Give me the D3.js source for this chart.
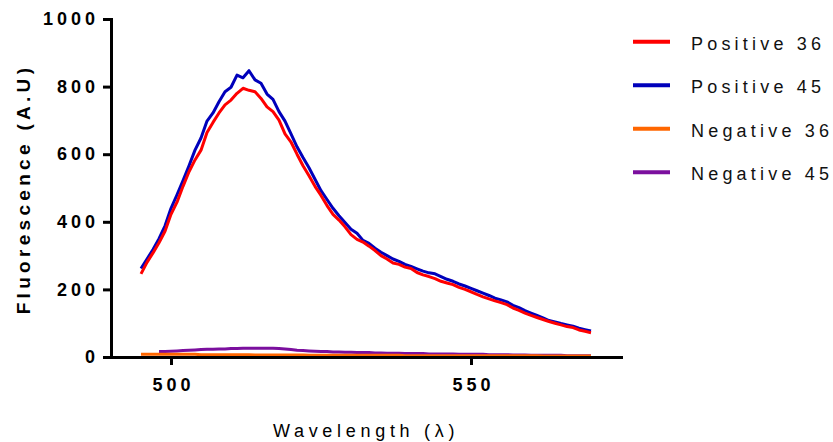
<!DOCTYPE html>
<html>
<head>
<meta charset="utf-8">
<script src="https://cdn.jsdelivr.net/npm/d3@7"></script>
<style>
    html, body { margin: 0; padding: 0; background: #fff; }
    svg { display: block; font-family: "Liberation Sans", Arial, sans-serif; }
</style>
</head>
<body>
<div id="chart"></div>
<script>

//******************************************************************************
//**  Data
//******************************************************************************
var wavelength = [
    495,496,497,498,499,500,501,502,503,504,505,506,507,508,509,510,511,512,513,514,
    515,516,517,518,519,520,521,522,523,524,525,526,527,528,529,530,531,532,533,534,
    535,536,537,538,539,540,541,542,543,544,545,546,547,548,549,550,551,552,553,554,
    555,556,557,558,559,560,561,562,563,564,565,566,567,568,569,570
];

var positive36 = [
    246,280,308,338,372,422,458,505,548,583,612,664,694,722,746,760,780,795,789,785,
    765,740,726,701,660,636,600,566,536,505,478,448,422,405,385,362,348,340,328,315,
    300,290,278,274,266,262,250,243,238,232,224,219,214,206,200,193,185,178,172,166,
    161,155,145,138,130,123,117,111,105,100,95,90,87,80,76,72
];

var positive45 = [
    262,290,318,350,388,440,480,522,566,612,648,698,722,755,785,798,834,826,847,820,
    810,778,762,726,698,660,622,590,560,526,492,466,440,418,398,378,366,345,336,322,
    310,300,290,283,274,268,261,254,249,246,238,230,224,216,210,203,196,189,182,174,
    169,163,153,146,137,130,123,116,108,104,99,95,91,85,81,77
];

var negative36 = [
    8,8,8,8,8,8,8,8,8,8,7,7,7,7,7,7,7,7,7,6,
    6,6,6,6,6,6,6,6,5,5,5,5,5,5,5,5,5,5,5,5,
    5,5,5,5,4,4,4,4,4,4,4,4,4,4,4,4,4,4,4,4,
    4,4,4,4,4,4,4,3,3,3,3,3,3,3,3,3
];

var negative45 = [
    null,null,null,16,16,17,18,19,20,21,22,23,23,24,24,25,25,26,26,26,
    26,26,26,25,24,22,20,19,18,17,16,16,15,15,14,14,13,13,13,12,
    12,11,11,11,10,10,10,10,9,9,9,9,9,8,8,8,8,8,7,7,
    7,7,6,6,6,5,5,5,5,5,5,4,4,4,4,4
];

var seriesNames = ["Positive 36", "Positive 45", "Negative 36", "Negative 45"];
var seriesColors = ["#ff0000", "#0000bb", "#ff6600", "#7b0f9e"];
var seriesValues = [positive36, positive45, negative36, negative45];
var drawOrder = [3, 2, 1, 0];

var xTicks = [500, 550];
var yTicks = [0, 200, 400, 600, 800, 1000];


//******************************************************************************
//**  Chart
//******************************************************************************
var width = 833, height = 442;

var svg = d3.select("#chart").append("svg")
    .attr("width", width)
    .attr("height", height);

var x = d3.scaleLinear().domain([490, 575]).range([111, 621]);
var y = d3.scaleLinear().domain([0, 1000]).range([357, 19]);


//Lines
var line = d3.line()
    .defined(function(d){ return d.v !== null; })
    .x(function(d){ return x(d.w); })
    .y(function(d){ return y(d.v); });

var plot = svg.append("g");
drawOrder.forEach(function(i){
    var pts = wavelength.map(function(w, j){ return {w: w, v: seriesValues[i][j]}; });
    plot.append("path")
        .datum(pts)
        .attr("d", line)
        .attr("fill", "none")
        .attr("stroke", seriesColors[i])
        .attr("stroke-width", 3)
        .attr("stroke-linejoin", "round");
});


//Y axis
var yAxis = svg.append("g")
    .attr("transform", "translate(" + x.range()[0] + ",0)")
    .call(d3.axisLeft(y).tickValues(yTicks).tickFormat(d3.format("d"))
        .tickSize(8).tickPadding(8).tickSizeOuter(0));

//X axis
var xAxis = svg.append("g")
    .attr("transform", "translate(0," + y(0) + ")")
    .call(d3.axisBottom(x).tickValues(xTicks).tickFormat(d3.format("d"))
        .tickSize(8).tickPadding(13).tickSizeOuter(0));

[xAxis, yAxis].forEach(function(a){
    a.select(".domain").attr("stroke", "#000").attr("stroke-width", 3).attr("stroke-linecap", "square");
    a.selectAll(".tick line").attr("stroke", "#000").attr("stroke-width", 3);
    a.selectAll(".tick text")
        .attr("fill", "#000")
        .style("font-family", "'Liberation Sans', Arial, sans-serif")
        .style("font-size", "18px")
        .style("font-weight", "bold")
        .style("letter-spacing", "4px");
});
yAxis.selectAll(".tick text").attr("dx", "4px");
xAxis.selectAll(".tick text").attr("dx", "2px");


//Axis titles
svg.append("text")
    .attr("transform", "translate(30,189) rotate(-90)")
    .attr("text-anchor", "middle")
    .style("font-size", "19px")
    .style("font-weight", "bold")
    .style("letter-spacing", "4.3px")
    .text("Fluorescence (A.U)");

svg.append("text")
    .attr("x", 366)
    .attr("y", 437)
    .attr("text-anchor", "middle")
    .style("font-size", "18px")
    .style("letter-spacing", "4.7px")
    .text("Wavelength (\u03bb)");


//Legend
var legend = svg.append("g");
seriesNames.forEach(function(name, i){
    var ly = 41.7 + i * 43.5;
    legend.append("line")
        .attr("x1", 633).attr("x2", 670)
        .attr("y1", ly).attr("y2", ly)
        .attr("stroke", seriesColors[i])
        .attr("stroke-width", 4);
    legend.append("text")
        .attr("x", 691)
        .attr("y", ly + 8)
        .style("font-size", "18px")
        .style("letter-spacing", "4.2px")
        .attr("fill", "#111")
        .text(name);
});

</script>
</body>
</html>
